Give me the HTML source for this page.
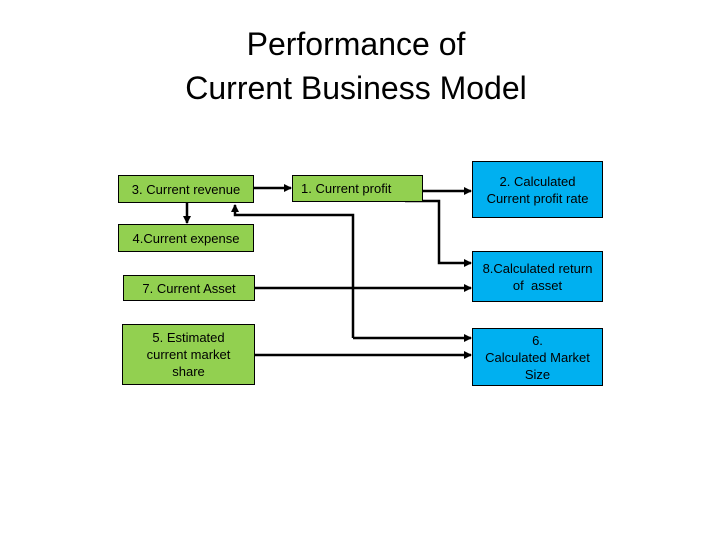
<!DOCTYPE html>
<html><head><meta charset="utf-8"><style>
body{margin:0;width:720px;height:540px;background:#fff;position:relative;font-family:"Liberation Sans",Arial,sans-serif;overflow:hidden}
.t{position:absolute;left:0;width:712px;text-align:center;font-size:32px;color:#000}
.b{position:absolute;box-sizing:border-box;border:1.5px solid #000;display:flex;align-items:center;justify-content:center;text-align:center;font-size:13px;line-height:17px;color:#000}
.g{background:#92d050}.c{background:#00b0f0}
</style></head><body>
<div class="t" style="top:26px">Performance of</div>
<div class="t" style="top:70px">Current Business Model</div>
<svg width="720" height="540" style="position:absolute;left:0;top:0">
<defs><marker id="a" markerWidth="8" markerHeight="8" refX="7" refY="4" orient="auto" markerUnits="userSpaceOnUse"><path d="M0,0 L8,4 L0,8 z"/></marker></defs>
<g stroke="#000" stroke-width="2.5" fill="none" marker-end="url(#a)">
<line x1="254" y1="188" x2="291" y2="188"/>
<line x1="423" y1="191" x2="471" y2="191"/>
<polyline points="405,201 439,201 439,263 471,263"/>
<line x1="187" y1="203" x2="187" y2="223"/>
<polyline points="353,338 353,215 235,215 235,205"/>
<line x1="255" y1="288" x2="471" y2="288"/>
<line x1="255" y1="355" x2="471" y2="355"/>
</g>
<line x1="353" y1="338" x2="471" y2="338" stroke="#000" stroke-width="2.5" marker-end="url(#a)"/>
</svg>
<div class="b g" style="left:118px;top:175px;width:136px;height:28px">3. Current revenue</div>
<div class="b g" style="left:292px;top:175px;width:131px;height:27px;justify-content:flex-start;padding-left:8px">1. Current profit</div>
<div class="b c" style="left:472px;top:161px;width:131px;height:57px">2. Calculated<br>Current profit rate</div>
<div class="b g" style="left:118px;top:224px;width:136px;height:28px">4.Current expense</div>
<div class="b g" style="left:123px;top:275px;width:132px;height:26px">7. Current Asset</div>
<div class="b g" style="left:122px;top:324px;width:133px;height:61px">5. Estimated<br>current market<br>share</div>
<div class="b c" style="left:472px;top:251px;width:131px;height:51px">8.Calculated return<br>of &nbsp;asset</div>
<div class="b c" style="left:472px;top:328px;width:131px;height:58px">6.<br>Calculated Market<br>Size</div>
</body></html>
